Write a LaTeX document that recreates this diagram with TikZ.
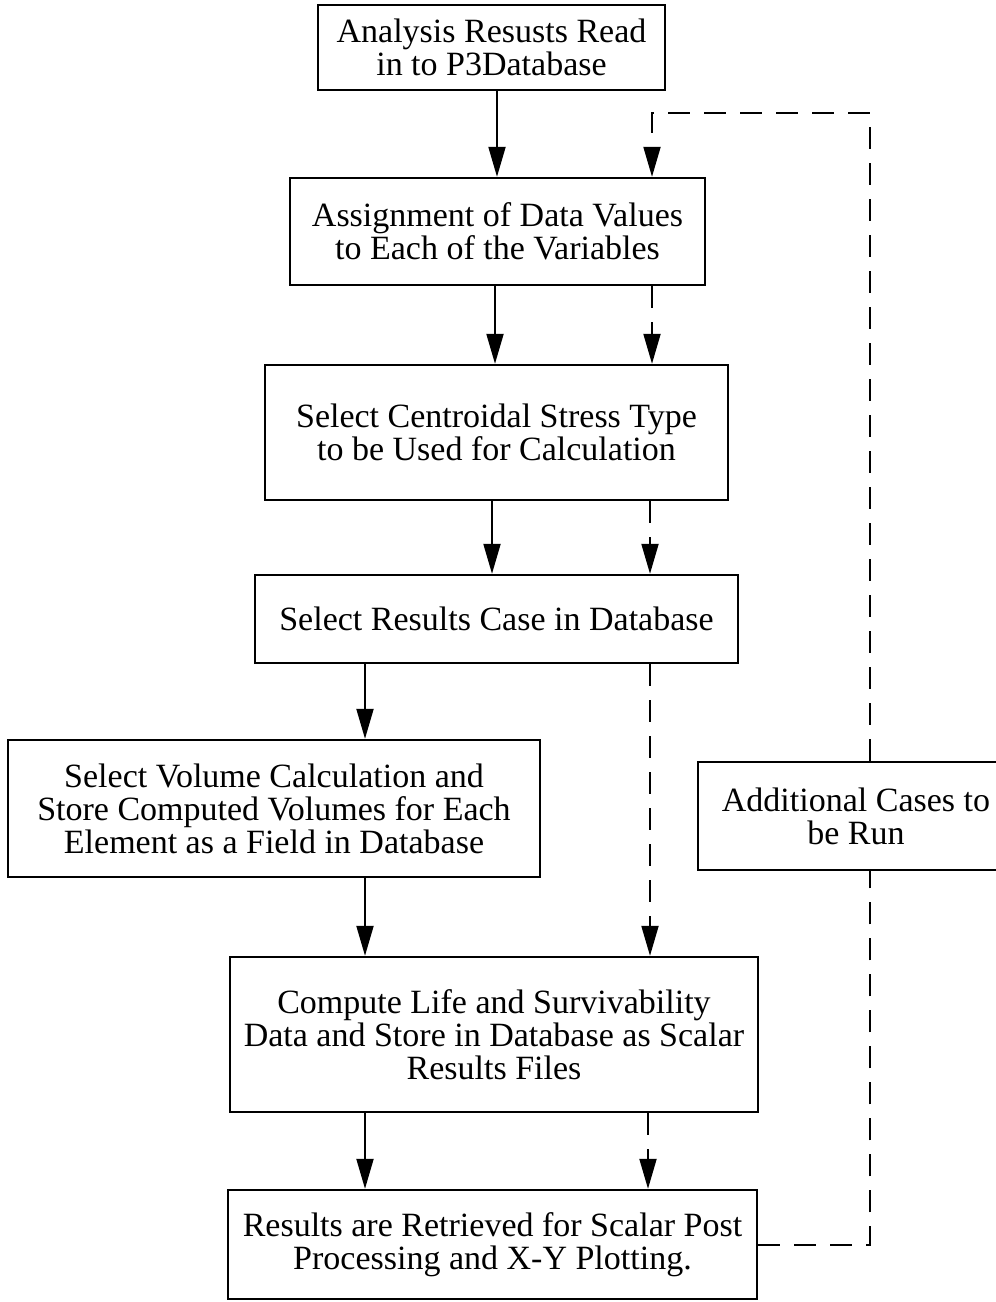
\documentclass[tikz,border=0pt]{standalone}
\usepackage{fontspec}
\setmainfont{Liberation Serif}
\usetikzlibrary{arrows.meta}
\begin{document}
\begin{tikzpicture}[x=0.5pt,y=-0.5pt,
  box/.style={draw, line width=1.2pt, align=center, inner sep=0pt, font=\fontsize{17}{16.5}\selectfont},
  arr/.style={line width=1pt, -{Triangle[length=15pt,width=8.5pt]}},
  dsh/.style={line width=1pt, dash pattern=on 11pt off 7pt}]
\useasboundingbox (0,0) rectangle (996,1302);
\clip (0,0) rectangle (996,1302);
\node[box, minimum width=173.5pt, minimum height=42.5pt] (b1) at (491.5,47.5) {Analysis Resusts Read\\in to P3Database};
\node[box, minimum width=207.5pt, minimum height=53.5pt] (b2) at (497.5,231.5) {Assignment of Data Values\\to Each of the Variables};
\node[box, minimum width=231.5pt, minimum height=67.5pt] (b3) at (496.5,432.5) {Select Centroidal Stress Type\\to be Used for Calculation};
\node[box, minimum width=241.5pt, minimum height=44pt] (b4) at (496.5,619) {Select Results Case in Database};
\node[box, minimum width=266pt, minimum height=68.5pt] (b5) at (274,808.5) {Select Volume Calculation and\\Store Computed Volumes for Each\\Element as a Field in Database};
\node[box, minimum width=158pt, minimum height=54pt] (b6) at (856,816) {Additional Cases to\\be Run};
\node[box, minimum width=264pt, minimum height=77.5pt] (b7) at (494,1034.5) {Compute Life and Survivability\\Data and Store in Database as Scalar\\Results Files};
\node[box, minimum width=264.5pt, minimum height=54.5pt] (b8) at (492.5,1244.5) {Results are Retrieved for Scalar Post\\Processing and X-Y Plotting.};
% columns
\coordinate (s1) at (497,0);
\coordinate (s2) at (495,0);
\coordinate (s3) at (492,0);
\coordinate (s4) at (365,0);
\coordinate (d1) at (652,0);
\coordinate (d2) at (652,0);
\coordinate (d3) at (650,0);
\coordinate (d4) at (648,0);
\coordinate (rx) at (870,0);
\coordinate (ty) at (0,113);
% solid flow
\draw[arr] (b1.south -| s1) -- (b2.north -| s1);
\draw[arr] (b2.south -| s2) -- (b3.north -| s2);
\draw[arr] (b3.south -| s3) -- (b4.north -| s3);
\draw[arr] (b4.south -| s4) -- (b5.north -| s4);
\draw[arr] (b5.south -| s4) -- (b7.north -| s4);
\draw[arr] (b7.south -| s4) -- (b8.north -| s4);
% dashed flow
\draw[dsh,arr] (b2.south -| d2) -- (b3.north -| d2);
\draw[dsh,arr] (b3.south -| d3) -- (b4.north -| d3);
\draw[dsh,arr] (b4.south -| d3) -- (b7.north -| d3);
\draw[dsh,arr] (b7.south -| d4) -- (b8.north -| d4);
% loop back
\draw[dsh] (b8.east) -| (b6.south -| rx);
\draw[dsh,arr] (b6.north -| rx) |- (ty -| d1) -- (b2.north -| d1);
\end{tikzpicture}
\end{document}
